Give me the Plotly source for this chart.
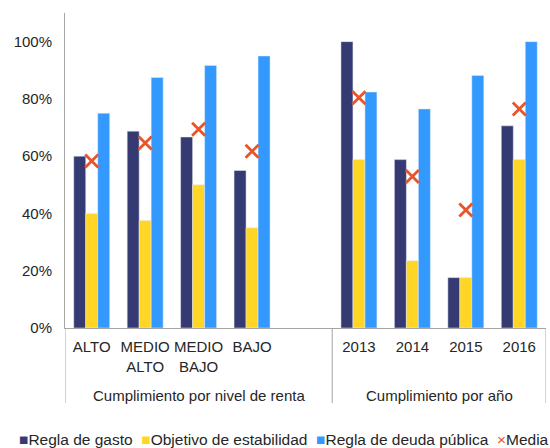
import plotly.graph_objects as go

categories = ["ALTO", "MEDIO<br>ALTO", "MEDIO<br>BAJO", "BAJO", " ", "2013", "2014", "2015", "2016"]
group_labels = ["Cumplimiento por nivel de renta", "Cumplimiento por año"]
group_members = [["ALTO", "MEDIO<br>ALTO", "MEDIO<br>BAJO", "BAJO", " "], ["2013", "2014", "2015", "2016"]]

regla_gasto = [60, 68.75, 66.7, 55, None, 100, 58.8, 17.6, 70.6]
objetivo_estabilidad = [40, 37.5, 50, 35, None, 58.8, 23.5, 17.6, 58.8]
regla_deuda = [75, 87.5, 91.7, 95, None, 82.4, 76.5, 88.2, 100]
media = [58.3, 64.6, 69.4, 61.7, None, 80.4, 52.9, 41.2, 76.5]

y_ticks = [0, 20, 40, 60, 80, 100]
y_tick_labels = ["0%", "20%", "40%", "60%", "80%", "100%"]

C_NAVY = "#363A72"
C_YELLOW = "#FFD625"
C_BLUE = "#3399FF"
C_ORANGE = "#E8552A"
C_TEXT = "#262626"
C_AXIS = "#A6A6A6"
FONT = "Liberation Sans, Arial, sans-serif"

fig = go.Figure()
fig.add_trace(go.Bar(x=categories, y=regla_gasto, name="Regla de gasto", marker_color=C_NAVY))
fig.add_trace(go.Bar(x=categories, y=objetivo_estabilidad, name="Objetivo de estabilidad", marker_color=C_YELLOW))
fig.add_trace(go.Bar(x=categories, y=regla_deuda, name="Regla de deuda pública", marker_color=C_BLUE))
fig.add_trace(go.Scatter(x=categories, y=media, name="Media", mode="markers",
                         marker=dict(symbol="x-thin", size=13,
                                     line=dict(width=2.8, color=C_ORANGE),
                                     color=C_ORANGE)))

# group dividers and labels
boundaries = [-0.5]
for members in group_members:
    boundaries.append(boundaries[-1] + len(members))
for b in boundaries:
    fig.add_shape(type="line", xref="x", yref="paper", x0=b, x1=b, y0=0, y1=-0.238,
                  line=dict(color=C_AXIS, width=1))
for i, lab in enumerate(group_labels):
    center = (boundaries[i] + boundaries[i + 1]) / 2
    fig.add_annotation(text=lab, xref="x", yref="paper", x=center, y=-0.213,
                       xanchor="center", yanchor="middle", showarrow=False,
                       font=dict(size=15, color=C_TEXT, family=FONT))

legend_text = (
    f'<span style="color:{C_NAVY}">■</span>Regla de gasto &nbsp;'
    f'<span style="color:{C_YELLOW}">■</span>Objetivo de estabilidad &nbsp;'
    f'<span style="color:{C_BLUE}">■</span>Regla de deuda pública &nbsp;'
    f'<span style="color:{C_ORANGE}">×</span>Media'
)
fig.add_annotation(text=legend_text, xref="paper", yref="paper", x=0.455, y=-0.355,
                   xanchor="center", yanchor="middle", showarrow=False,
                   font=dict(size=15.5, color=C_TEXT, family=FONT))

fig.update_layout(
    width=550, height=448,
    margin=dict(l=65, r=4, t=13, b=120),
    paper_bgcolor="white", plot_bgcolor="white",
    barmode="group", bargap=0.327, bargroupgap=0,
    showlegend=False,
    font=dict(family=FONT, size=15, color=C_TEXT),
)
fig.update_xaxes(type="category", categoryorder="array", categoryarray=categories,
                 range=[-0.5, len(categories) - 0.5],
                 showline=True, linecolor=C_AXIS, linewidth=1, tickangle=0,
                 ticks="", showgrid=False, automargin=False, ticklabelstandoff=5,
                 tickfont=dict(size=15, color=C_TEXT))
fig.update_yaxes(range=[0, 110], tickvals=y_ticks, ticktext=y_tick_labels, showgrid=False,
                 zeroline=False, showline=True, linecolor=C_AXIS, linewidth=1,
                 ticks="", automargin=False, ticklabelstandoff=9,
                 tickfont=dict(size=15, color=C_TEXT))

fig.write_html("out.html", config={"displayModeBar": False},
               post_script="document.body.style.margin='0';")
